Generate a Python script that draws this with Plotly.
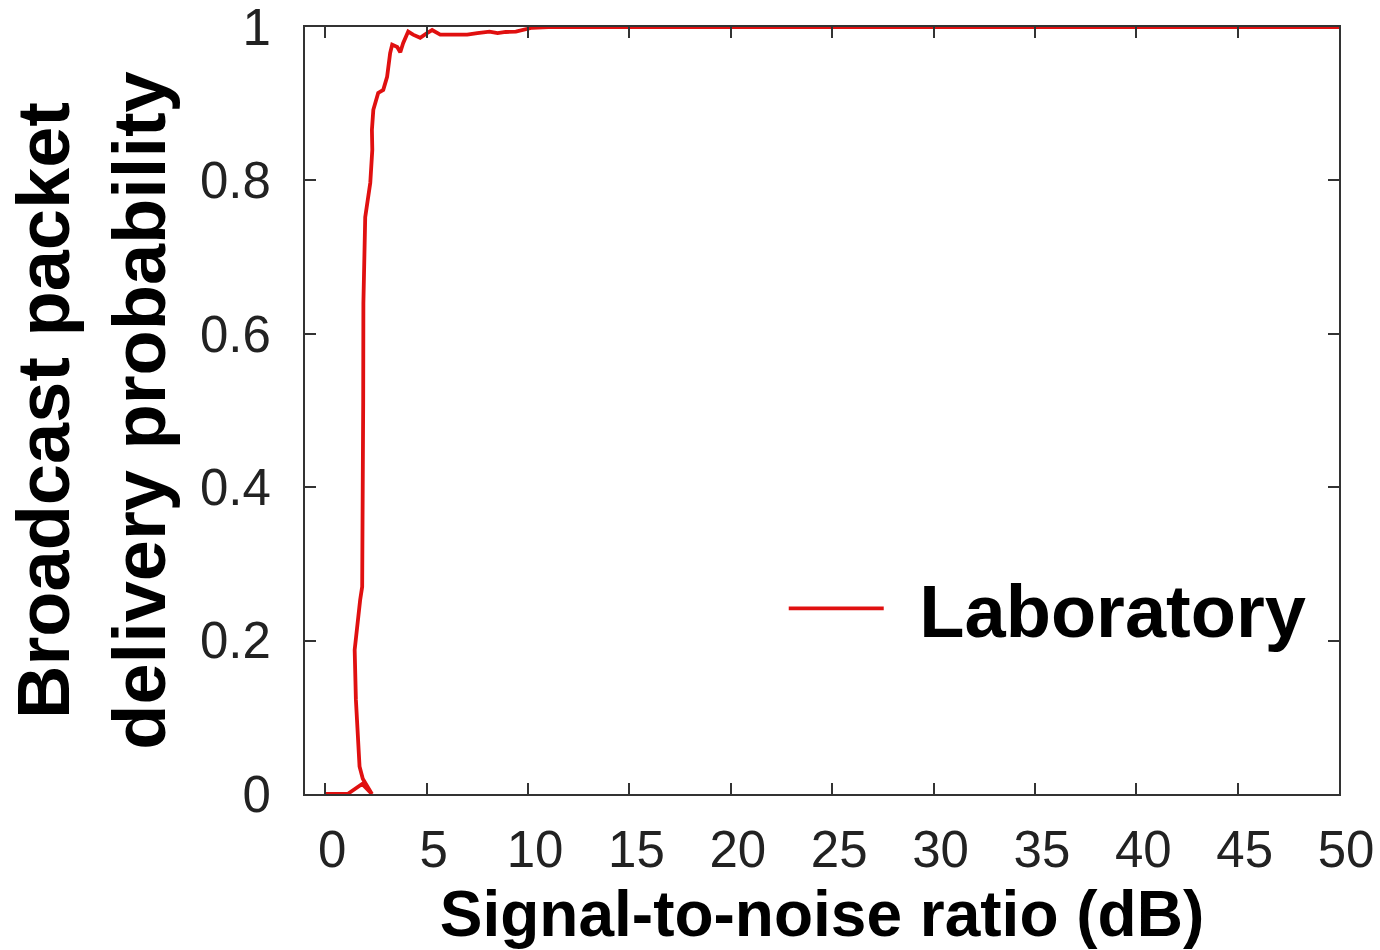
import plotly.graph_objects as go

# Data
snr_db = [0.0, 1.1, 1.82, 2.3, 1.85, 1.69, 1.51, 1.45, 1.72, 1.82, 1.87, 1.88, 1.97,
          2.22, 2.32, 2.30, 2.37, 2.61, 2.86, 3.05, 3.2, 3.3, 3.55, 3.7, 3.84, 4.09,
          4.33, 4.68, 5.02, 5.27, 5.67, 6.06, 6.5, 7.0, 7.5, 8.1, 8.5, 8.9, 9.4, 9.8,
          10.2, 11.0, 50.0]
delivery_prob = [0.0, 0.0, 0.013, 0.0, 0.02, 0.036, 0.123, 0.188, 0.253, 0.27, 0.51, 0.64, 0.752,
                 0.797, 0.84, 0.866, 0.892, 0.914, 0.918, 0.935, 0.966, 0.977, 0.974, 0.967, 0.979, 0.994,
                 0.99, 0.986, 0.992, 0.996, 0.99, 0.99, 0.99, 0.99, 0.992, 0.994, 0.992, 0.9935, 0.994, 0.996,
                 0.999, 1.0, 1.0]
series_name = "Laboratory"
x_ticks = [0, 5, 10, 15, 20, 25, 30, 35, 40, 45, 50]
y_ticks = [0, 0.2, 0.4, 0.6, 0.8, 1]
y_tick_text = ["0", "0.2", "0.4", "0.6", "0.8", "1"]

FONT = "Liberation Sans, Arial, sans-serif"

fig = go.Figure()
fig.add_trace(go.Scatter(
    x=snr_db, y=delivery_prob, mode="lines",
    name="<b>&nbsp;<span style='font-size:36px'>&nbsp;</span>" + series_name + "</b>",
    line=dict(color="#e01010", width=3.8),
))

axis_common = dict(
    showline=True, linecolor="#333333", linewidth=2, mirror="ticks",
    ticks="inside", ticklen=11, tickwidth=2, tickcolor="#333333",
    showgrid=False, zeroline=False, automargin=False,
    ticklabeloverflow="allow",
    tickfont=dict(family=FONT, size=51, color="#222222"),
)

fig.update_xaxes(
    range=[-1, 50], tickvals=x_ticks, ticktext=[str(v) for v in x_ticks],
    ticklabelstandoff=10, ticklabelshift=7,
    title=dict(text="<b>Signal-to-noise ratio (dB)</b>", standoff=10,
               font=dict(family=FONT, size=64, color="#000000")),
    **axis_common,
)
fig.update_yaxes(
    range=[0, 1], tickvals=y_ticks, ticktext=y_tick_text,
    ticklabelstandoff=22,
    title=dict(text="<b>Broadcast packet<br>delivery probability</b>", standoff=10,
               font=dict(family=FONT, size=74, color="#000000")),
    **axis_common,
)

fig.update_layout(
    width=1380, height=950,
    margin=dict(l=305, r=41, t=27, b=156, pad=0),
    paper_bgcolor="white", plot_bgcolor="white",
    showlegend=True,
    legend=dict(
        x=0.463, y=0.2415, xanchor="left", yanchor="middle",
        bgcolor="rgba(0,0,0,0)", borderwidth=0,
        itemwidth=95,
        font=dict(family=FONT, size=74, color="#000000"),
    ),
)

fig.write_html("out.html", config={"displayModeBar": False},
               post_script="document.body.style.margin='0';document.body.style.overflow='hidden';")
